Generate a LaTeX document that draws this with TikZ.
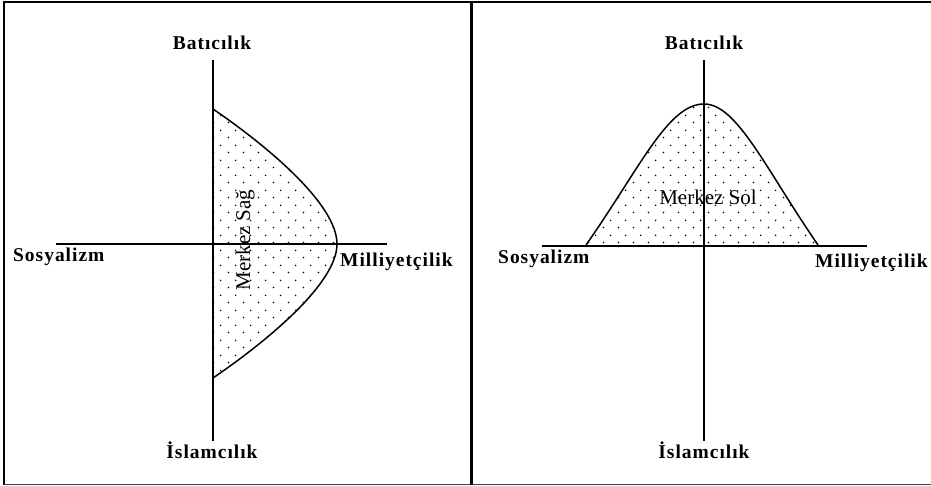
\documentclass[tikz,border=0pt]{standalone}
\usepackage{fontspec}
\setmainfont{Liberation Serif}
\newfontfamily\lblfont[LetterSpace=5]{Liberation Serif}
\usetikzlibrary{patterns.meta}
\tikzdeclarepattern{name=sparsedots,type=uncolored,bounding box={(0pt,0pt) and (15pt,15pt)},tile size={(15pt,15pt)},
  code={\fill (3.75pt,3.75pt) circle (0.9pt); \fill (11.25pt,11.25pt) circle (0.9pt);}}

\begin{document}
\begin{tikzpicture}[x=1pt,y=-1pt,axis/.style={line width=1.5pt},frame/.style={line width=2pt},
  lbl/.style={font=\lblfont\bfseries\fontsize{19.5}{22}\selectfont,inner sep=0pt},
  tag/.style={font=\fontsize{21}{24}\selectfont,inner sep=0pt},
  region/.style={line width=1.5pt,pattern=sparsedots}]
\useasboundingbox (0,0) rectangle (931,486);
% frame of the two panels
\draw[frame] (931,2) -- (4,2) -- (4,484.5);
\draw[line width=1.5pt,black!75] (4,484.5) -- (931,484.5);
\draw[line width=3pt] (471,2) -- (471,484.5);
% left panel
\fill[pattern=sparsedots] (213,109) .. controls (270,148) and (337,205) .. (337,244)
  .. controls (337,282.6) and (270,339) .. (213,378) -- cycle;
\draw[axis] (213,109) .. controls (270,148) and (337,205) .. (337,244)
  .. controls (337,282.6) and (270,339) .. (213,378);
\coordinate (lN) at (213,60);\coordinate (lS) at (213,441);
\coordinate (lW) at (56,244);\coordinate (lE) at (387,244);
\draw[axis] (lN)--(lS);\draw[axis] (lW)--(lE);
\node[lbl,anchor=base] (lbat) at (212,49.5) {Batıcılık};
\node[lbl,anchor=base] (lisl) at (212,458) {İslamcılık};
\node[lbl,anchor=base west] (lsos) at (13,261.5) {Sosyalizm};
\node[lbl,anchor=base west] (lmil) at (340,266.5) {Milliyetçilik};
\node[tag,anchor=base,rotate=90] (lsag) at (250,240) {Merkez Sağ};
% right panel
\fill[pattern=sparsedots] (586,245) .. controls (640,168) and (668,104) .. (704,104)
  .. controls (737,104) and (765,168) .. (818,245) -- cycle;
\draw[axis] (586,245) .. controls (640,168) and (668,104) .. (704,104)
  .. controls (737,104) and (765,168) .. (818,245);
\coordinate (rN) at (704,60);\coordinate (rS) at (704,441);
\coordinate (rW) at (542,246);\coordinate (rE) at (866.5,246);
\draw[axis] (rN)--(rS);\draw[axis] (rW)--(rE);
\node[lbl,anchor=base] (rbat) at (704,49.5) {Batıcılık};
\node[lbl,anchor=base] (risl) at (704,458) {İslamcılık};
\node[lbl,anchor=base west] (rsos) at (498,263) {Sosyalizm};
\node[lbl,anchor=base west] (rmil) at (815,267) {Milliyetçilik};
\node[tag,anchor=base] (rsol) at (708,205) {Merkez Sol};
\end{tikzpicture}
\end{document}
